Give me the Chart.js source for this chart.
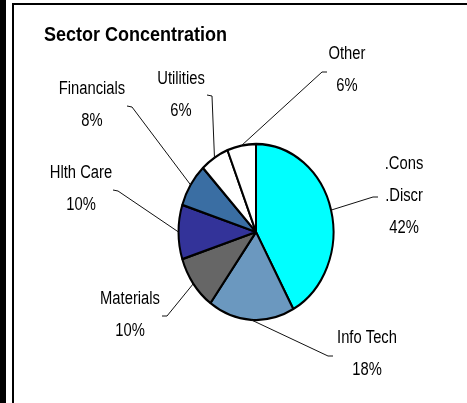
<!DOCTYPE html>
<html>
<head>
<meta charset="utf-8">
<script src="https://cdn.jsdelivr.net/npm/chart.js@4.4.1/dist/chart.umd.min.js"></script>
<style>
  html, body { margin: 0; padding: 0; background: #ffffff; }
  #wrap { width: 467px; height: 403px; position: relative; }
  canvas { display: block; }
</style>
</head>
<body>
<div id="wrap"><canvas id="c" width="467" height="403"></canvas></div>
<script>
// ---- data ----
const chartTitle = 'Sector Concentration';
const categories = ['.Cons\n.Discr', 'Info Tech', 'Materials', 'Hlth Care', 'Financials', 'Utilities', 'Other'];
const shares = [42, 18, 10, 10, 8, 6, 6];

// ---- styling / layout (kept apart from the data) ----
const sliceColors = ['#00FFFF', '#6B98BF', '#666666', '#333399', '#3A6EA3', '#FFFFFF', '#FFFFFF'];
// first-line centre of each label, elbow of its leader line, and the end of the short tick
const labelAnchors = [[404, 164], [367, 338], [130, 299], [81, 173], [92, 89], [181, 79], [347, 54]];
const leaderElbows = [[373, 197], [328, 356], [167, 316], [118, 191], [132, 107], [212, 96], [322, 72]];
const leaderEnds   = [[378, 197], [333, 356], [162, 316], [113, 190], [127, 106], [207, 95], [327, 72]];
const pieRadiusX = 77.5;
const pieStretchY = 88 / 77.5;
const lineGap = 32;

const framePlugin = {
  id: 'frame',
  beforeDraw(chart) {
    const ctx = chart.ctx;
    ctx.save();
    ctx.fillStyle = '#ffffff';
    ctx.fillRect(0, 0, chart.width, chart.height);
    ctx.fillStyle = '#000000';
    ctx.fillRect(0, 0, 6, chart.height);
    ctx.fillRect(12, 3, 2, chart.height - 3);
    ctx.fillRect(12, 3, chart.width - 12, 2);
    // title
    ctx.fillStyle = '#000000';
    ctx.font = 'bold 20px "Liberation Sans", Arial, sans-serif';
    ctx.textAlign = 'left';
    ctx.textBaseline = 'middle';
    ctx.translate(44, 35);
    ctx.scale(0.9, 1);
    ctx.fillText(chartTitle, 0, 0);
    ctx.restore();
  }
};

const stretchPlugin = {
  id: 'stretch',
  beforeDatasetsDraw(chart) {
    const arc = chart.getDatasetMeta(0).data[0];
    const ctx = chart.ctx;
    ctx.save();
    ctx.translate(arc.x, arc.y);
    ctx.scale(1, pieStretchY);
    ctx.translate(-arc.x, -arc.y);
  },
  afterDatasetsDraw(chart) {
    chart.ctx.restore();
  }
};

const labelPlugin = {
  id: 'labels',
  afterDraw(chart) {
    const ctx = chart.ctx;
    const arcs = chart.getDatasetMeta(0).data;
    const vals = chart.data.datasets[0].data;
    ctx.save();
    arcs.forEach((arc, i) => {
      const mid = (arc.startAngle + arc.endAngle) / 2;
      const px = arc.x + arc.outerRadius * Math.cos(mid);
      const py = arc.y + arc.outerRadius * Math.sin(mid) * pieStretchY;
      ctx.strokeStyle = '#111111';
      ctx.lineWidth = 1;
      ctx.beginPath();
      ctx.moveTo(px, py);
      ctx.lineTo(leaderElbows[i][0], leaderElbows[i][1]);
      ctx.lineTo(leaderEnds[i][0], leaderEnds[i][1]);
      ctx.stroke();

      const lines = String(chart.data.labels[i]).split('\n').concat([vals[i] + '%']);
      ctx.fillStyle = '#000000';
      ctx.font = '18px "Liberation Sans", Arial, sans-serif';
      ctx.textAlign = 'center';
      ctx.textBaseline = 'middle';
      lines.forEach((t, k) => {
        ctx.save();
        ctx.translate(labelAnchors[i][0], labelAnchors[i][1] + k * lineGap);
        ctx.scale(0.82, 1);
        ctx.fillText(t, 0, 0);
        ctx.restore();
      });
    });
    ctx.restore();
  }
};

new Chart(document.getElementById('c'), {
  type: 'pie',
  data: {
    labels: categories,
    datasets: [{
      data: shares,
      backgroundColor: sliceColors,
      borderColor: '#000000',
      borderWidth: 2,
      radius: pieRadiusX
    }]
  },
  options: {
    responsive: false,
    devicePixelRatio: 1,
    animation: false,
    layout: { padding: { left: 45, right: 0, top: 61, bottom: 0 } },
    plugins: { legend: { display: false }, tooltip: { enabled: false } }
  },
  plugins: [framePlugin, stretchPlugin, labelPlugin]
});
</script>
</body>
</html>
